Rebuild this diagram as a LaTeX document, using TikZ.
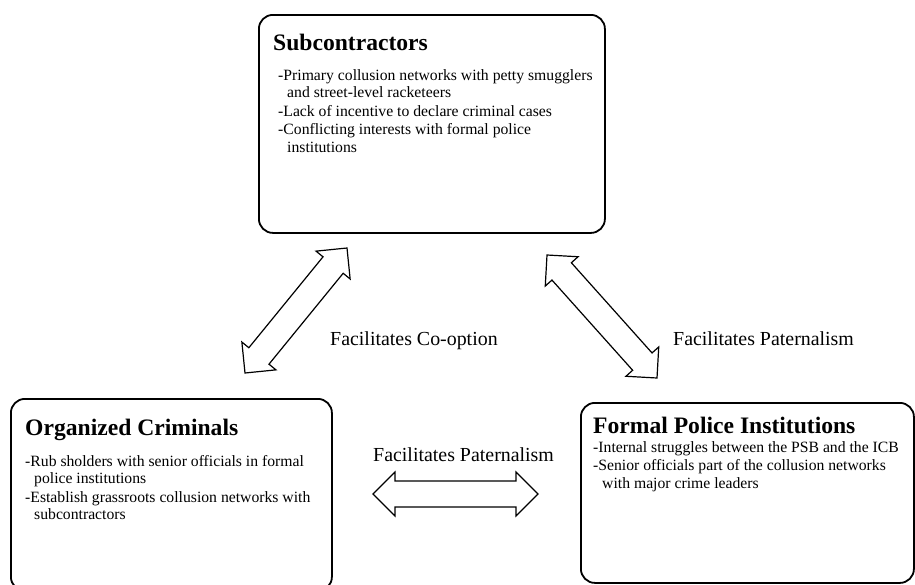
\documentclass[tikz,border=0pt]{standalone}
\usepackage{fontspec}
\setmainfont{Liberation Serif}
\usetikzlibrary{calc}
\tikzset{
	actor/.style={draw, line width=1.8pt, rounded corners=14pt, inner sep=0pt, anchor=north west},
	boxtitle/.style={anchor=base west, inner sep=0pt, font=\fontsize{23.6}{28}\selectfont\bfseries},
	boxbody/.style={anchor=north west, inner sep=0pt, align=left, font=\fontsize{15.7}{17.5}\selectfont},
	linklabel/.style={anchor=base west, inner sep=0pt, font=\fontsize{19.9}{24}\selectfont},
	blockarrow/.style={draw, line width=1.2pt, line join=miter, fill=white}
}
\newcommand{\hollowarrow}[2]{%
	\draw[blockarrow] (#1)
		-- ($(#1)!22pt!(#2)!22pt!90:(#2)$) -- ($(#1)!22pt!(#2)!13pt!90:(#2)$)
		-- ($(#2)!22pt!(#1)!13pt!-90:(#1)$) -- ($(#2)!22pt!(#1)!22pt!-90:(#1)$)
		-- (#2)
		-- ($(#2)!22pt!(#1)!22pt!90:(#1)$) -- ($(#2)!22pt!(#1)!13pt!90:(#1)$)
		-- ($(#1)!22pt!(#2)!13pt!-90:(#2)$) -- ($(#1)!22pt!(#2)!22pt!-90:(#2)$)
		-- cycle;}
\newcommand{\ind}{\hspace*{9pt}}

\begin{document}
\begin{tikzpicture}[x=1pt, y=-1pt]
	\useasboundingbox (0,0) rectangle (915,584);

	\node[actor, minimum width=346pt, minimum height=218pt] (sub) at (258,14) {};
	\node[actor, minimum width=321pt, minimum height=192pt] (crim) at (10,398) {};
	\node[actor, minimum width=333pt, minimum height=180pt] (police) at (580,402) {};

	\node[boxtitle] (subtitle) at ([xshift=15pt, yshift=-36pt]sub.north west) {Subcontractors};
	\node[boxbody] (subtext) at ([xshift=20pt, yshift=-55pt]sub.north west) {%
		-Primary collusion networks with petty smugglers\\
		\ind and street-level racketeers\\[1pt]
		-Lack of incentive to declare criminal cases\\[1pt]
		-Conflicting interests with formal police\\
		\ind institutions};

	\node[boxtitle] (crimtitle) at ([xshift=15pt, yshift=-37pt]crim.north west) {Organized Criminals};
	\node[boxbody] (crimtext) at ([xshift=15pt, yshift=-57pt]crim.north west) {%
		-Rub sholders with senior officials in formal\\
		\ind police institutions\\[1pt]
		-Establish grassroots collusion networks with\\
		\ind subcontractors};

	\node[boxtitle] (policetitle) at ([xshift=13pt, yshift=-31pt]police.north west) {Formal Police Institutions};
	\node[boxbody] (policetext) at ([xshift=13pt, yshift=-39pt]police.north west) {%
		-Internal struggles between the PSB and the ICB\\[1pt]
		-Senior officials part of the collusion networks\\
		\ind with major crime leaders};

	\coordinate (cooptlow) at (245,373);
	\coordinate (coopthigh) at (347,248);
	\coordinate (patrhigh) at (547,255);
	\coordinate (patrlow) at (657,378);
	\coordinate (patrleft) at (373,494);
	\coordinate (patrright) at (538,494);

	\hollowarrow{cooptlow}{coopthigh}
	\hollowarrow{patrhigh}{patrlow}
	\hollowarrow{patrleft}{patrright}

	\node[linklabel] (cooptlabel) at (330,345) {Facilitates Co-option};
	\node[linklabel] (patrlabel) at (673,345) {Facilitates Paternalism};
	\node[linklabel] (basslabel) at (373,461) {Facilitates Paternalism};
\end{tikzpicture}
\end{document}
